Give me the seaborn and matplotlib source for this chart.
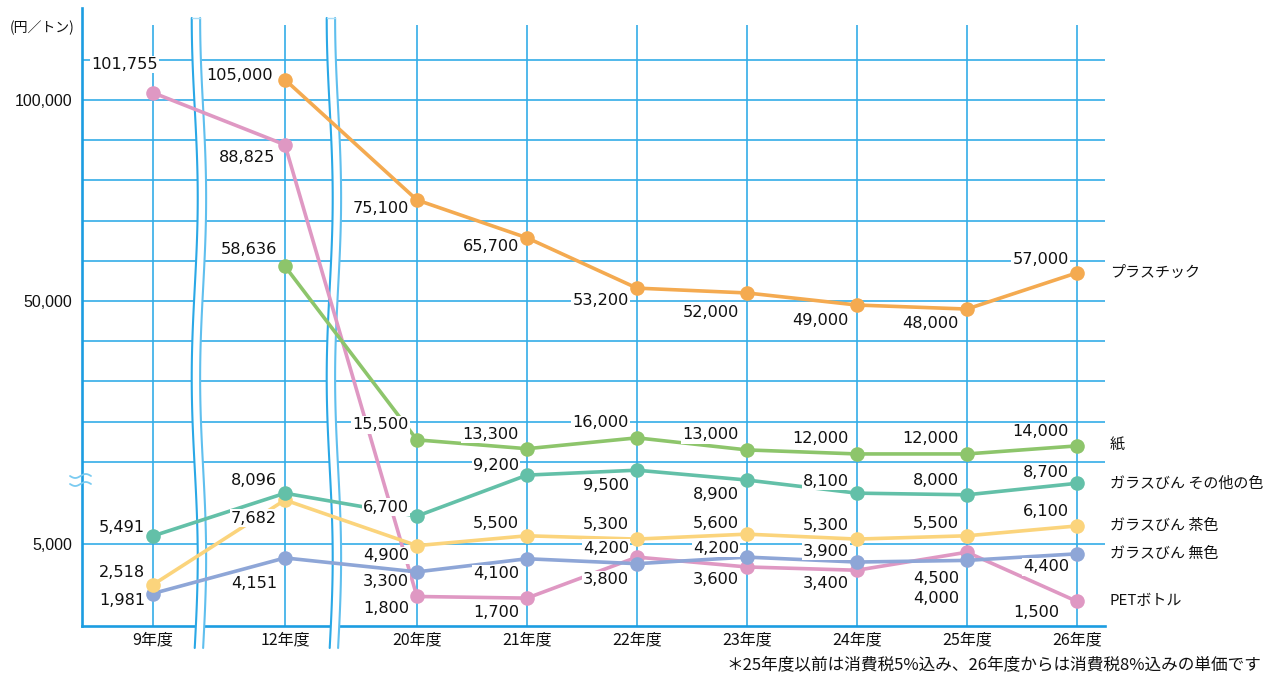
import numpy as np
import pandas as pd
import matplotlib
matplotlib.use("Agg")
import matplotlib.pyplot as plt
import matplotlib.transforms as mtransforms
from matplotlib.patches import Polygon
from matplotlib.lines import Line2D
import seaborn as sns

# ---- data (円／トン) -------------------------------------------------------
years = ["9年度", "12年度", "20年度", "21年度", "22年度", "23年度", "24年度", "25年度", "26年度"]
plastic = [None, 105000, 75100, 65700, 53200, 52000, 49000, 48000, 57000]
paper = [None, 58636, 15500, 13300, 16000, 13000, 12000, 12000, 14000]
glass_other = [5491, 8096, 6700, 9200, 9500, 8900, 8100, 8000, 8700]
glass_brown = [2518, 7682, 4900, 5500, 5300, 5600, 5300, 5500, 6100]
glass_clear = [1981, 4151, 3300, 4100, 3800, 4200, 3900, 4000, 4400]
pet = [101755, 88825, 1800, 1700, 4200, 3600, 3400, 4500, 1500]

series = {
    "PETボトル": pet,
    "ガラスびん 無色": glass_clear,
    "ガラスびん 茶色": glass_brown,
    "ガラスびん その他の色": glass_other,
    "紙": paper,
    "プラスチック": plastic,
}
colors = {
    "プラスチック": "#F4AA50",
    "紙": "#8DC56B",
    "ガラスびん その他の色": "#63C0A8",
    "ガラスびん 茶色": "#FBD47C",
    "ガラスびん 無色": "#8EA6D7",
    "PETボトル": "#DF98C3",
}

# vertical offsets (pixels, downward) of each value label from its marker
label_dy = {
    "プラスチック": [0, -4, 9, 9, 12, 20, 15, 14, -13],
    "紙": [0, -17, -15, -14, -15, -15, -15, -15, -14],
    "ガラスびん その他の色": [-8, -13, -9, -10, 15, 14, -12, -14, -11],
    "ガラスびん 茶色": [-12, 18, 10, -12, -15, -11, -14, -12, -14],
    "ガラスびん 無色": [7, 26, 10, 15, 16, -9, -11, 38, 13],
    "PETボトル": [-28, 13, 12, 14, -9, 13, 13, 26, 11],
}
label_dx_override = {("プラスチック", 1): -12, ("PETボトル", 0): 5,
                     ("PETボトル", 1): -10, ("PETボトル", 8): -18}

# x positions: a wider step where the timeline is broken (9→12, 12→20)
BREAK_GAP = 0.2
idx = np.arange(len(years))
xpos = idx + BREAK_GAP * np.minimum(idx, 2)

rows = []
for name, vals in series.items():
    for x, v in zip(xpos, vals):
        if v is not None:
            rows.append({"x": x, "value": v, "series": name})
df = pd.DataFrame(rows)

# ---- y scale: linear below 10,000, compressed above ------------------------
K = 4.075


def fwd(v):
    v = np.asarray(v, dtype=float)
    return np.where(v <= 1e4, v, 1e4 + (v - 1e4) / K)


def inv(f):
    f = np.asarray(f, dtype=float)
    return np.where(f <= 1e4, f, 1e4 + (f - 1e4) * K)


sns.set_theme(style="white")
plt.rcParams["font.family"] = ["Noto Sans CJK JP", "DejaVu Sans"]

W, H = 1264, 675
fig = plt.figure(figsize=(W / 100, H / 100), dpi=100)
ax = fig.add_axes([82 / W, 49 / H, 1023 / W, 618 / H])
ax.set_facecolor("white")
ax.set_yscale("function", functions=(fwd, inv))
ax.set_ylim(0, 122800)
ax.set_xlim(-0.645, 8.655)

GRID = "#33ADE8"
AXIS = "#1C9DE1"

# grid
for v in [5000] + list(range(10000, 120000, 10000)):
    ax.axhline(v, color=GRID, lw=1.2, zorder=1)
ax.vlines(xpos, 0, 118500, color=GRID, lw=1.2, zorder=1)

for s in ["top", "right"]:
    ax.spines[s].set_visible(False)
for s in ["left", "bottom"]:
    ax.spines[s].set_color(AXIS)
    ax.spines[s].set_linewidth(1.9)

# wavy break bands across the timeline
def px_to_data_x(px):
    return px / 110.0


def draw_break(xc):
    trans = mtransforms.blended_transform_factory(ax.transData, ax.transAxes)
    ypx = np.linspace(18, 648, 120)
    yax = (626 - ypx) / 618
    xc_curve = xc - px_to_data_x(3) * np.cos(2 * np.pi * (ypx - 18) / 360)
    hw = px_to_data_x(4.2)
    left = xc_curve - hw
    right = xc_curve + hw
    verts = np.vstack([np.column_stack([left, yax]),
                       np.column_stack([right[::-1], yax[::-1]])])
    ax.add_patch(Polygon(verts, closed=True, fc="white", ec="none",
                         transform=trans, clip_on=False, zorder=3))
    for xs, c in [(left, "#2AA8E6"), (right, "#5FBFEE")]:
        ax.add_line(Line2D(xs, yax, color=c, lw=1.5, transform=trans,
                           clip_on=False, zorder=3.1))
    ax.add_line(Line2D([left[0], right[0]], [yax[0], yax[0]], color="#A9DCF5",
                       lw=1.0, transform=trans, clip_on=False, zorder=3.1))


draw_break(0.418)
draw_break(1.645)

# data lines
sns.lineplot(data=df, x="x", y="value", hue="series", hue_order=list(series.keys()),
             palette=colors, marker="o", markersize=10.5, markeredgewidth=0,
             linewidth=2.6, legend=False, sort=False, ax=ax, zorder=4)

# value labels
for name, vals in series.items():
    for i, (x, v) in enumerate(zip(xpos, vals)):
        if v is None:
            continue
        dx = label_dx_override.get((name, i), -8)
        dy = label_dy[name][i]
        ax.annotate(f"{v:,}", (x, v), xytext=(dx, -dy), textcoords="offset pixels",
                    ha="right", va="center", fontsize=11.6, family="DejaVu Sans",
                    color="#111111", zorder=6,
                    bbox=dict(boxstyle="square,pad=0.08", fc="white", ec="none"))
    ax.annotate(name, (xpos[-1], vals[-1]), xytext=(33, 0), textcoords="offset pixels",
                ha="left", va="center", fontsize=10.8, color="#111111",
                annotation_clip=False)

# axes ticks
yt = [5000, 50000, 100000]
ax.set_yticks(yt)
ax.set_yticklabels([f"{v:,}" for v in yt], family="Liberation Sans", fontsize=11.5,
                   color="#111111")
ax.set_xticks(xpos)
ax.set_xticklabels(years, fontsize=11.5, color="#111111")
ax.tick_params(axis="y", length=0, pad=7)
ax.tick_params(axis="x", length=0, pad=4)
ax.minorticks_off()
ax.set_xlabel("")
ax.set_ylabel("")

# axis break mark on the value axis
for ypx in (476, 484):
    xs = np.linspace(70, 91, 40)
    ys = ypx + 2.0 * np.sin(2 * np.pi * (xs - 70) / 21)
    fig.add_artist(Line2D(xs / W, 1 - ys / H, color="#7ACBF1", lw=1.3,
                          transform=fig.transFigure))

fig.text(10 / W, 1 - 28 / H, "(円／トン)", ha="left", va="center", fontsize=10,
         color="#111111")
fig.text(1261 / W, 1 - 665 / H,
         "＊25年度以前は消費税5%込み、26年度からは消費税8%込みの単価です",
         ha="right", va="center", fontsize=12, color="#111111")

fig.savefig("out.png", dpi=100, facecolor="white")
